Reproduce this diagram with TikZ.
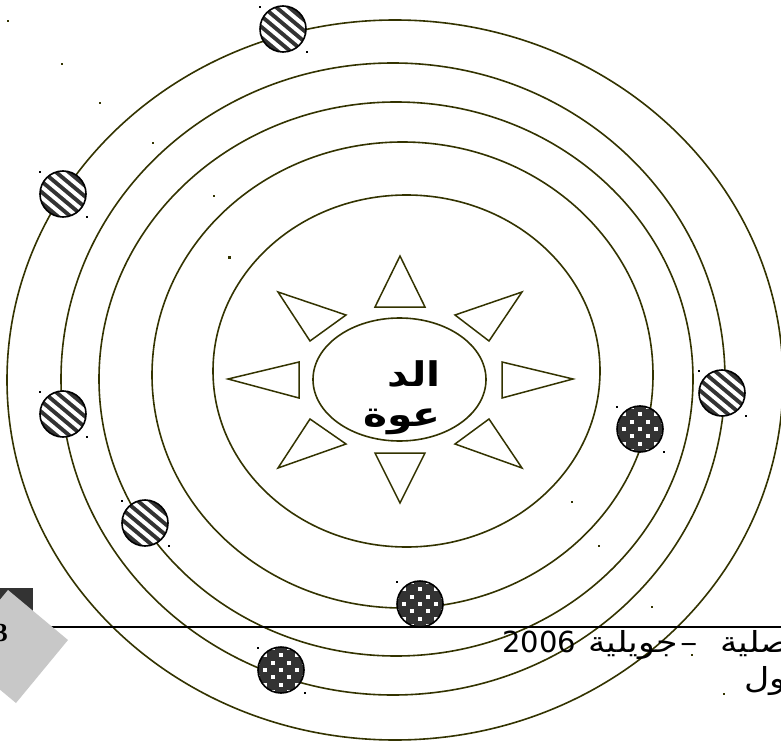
\documentclass[tikz,border=0pt]{standalone}
\usepackage{fontspec}
\usepackage{tikz}
\usetikzlibrary{shapes.geometric, calc}
\TeXXeTstate=1
\newfontfamily\arabicfont[Script=Arabic]{DejaVu Sans}
\newfontfamily\titlefont[Script=Arabic, FakeStretch=1.2]{DejaVu Sans}
\newfontfamily\footerfont[Script=Arabic, FakeStretch=1.2]{DejaVu Sans}
\newfontfamily\pagefont{Liberation Serif}
\definecolor{orbitline}{HTML}{333300}
\definecolor{planetfill}{HTML}{333333}
\definecolor{tabgray}{HTML}{C8C8C8}

\begin{document}
\begin{tikzpicture}[
        x=1pt, y=-1pt,
        orbit/.style={ellipse, draw=orbitline, line width=1.6pt, inner sep=0pt, outer sep=0pt},
        planet/.style={circle, draw=black, line width=1.6pt, fill=planetfill, minimum size=46pt, inner sep=0pt},
        stripes/.style={planet, path picture={
            \foreach \k in {-4,...,4}
                \draw[white, line width=4pt] ($(path picture bounding box.center)+(50:\k*8.2pt)+(-40:32pt)$) -- ($(path picture bounding box.center)+(50:\k*8.2pt)+(140:32pt)$);
        }},
        dots/.style={planet, path picture={
            \foreach \r in {-3,...,3}
                \foreach \c in {-3,...,2} {
                    \pgfmathsetmacro\sh{mod(\r+4,2)*7.8}
                    \fill[white] ($(path picture bounding box.center)+(\c*15.6pt+\sh*1pt-2pt, \r*7.3pt-2pt)$) rectangle +(4pt,4pt);
                }
        }},
        ray/.style={draw=orbitline, line width=1.5pt, line join=miter},
        handle/.style={fill=black}
    ]
        \useasboundingbox (0,0) rectangle (781,743);

        % orbits
        \node[orbit, minimum width=776, minimum height=720] (orbit5) at (395,380) {};
        \node[orbit, minimum width=664, minimum height=632] (orbit4) at (393,379) {};
        \node[orbit, minimum width=594, minimum height=554] (orbit3) at (396,379) {};
        \node[orbit, minimum width=501, minimum height=466] (orbit2) at (402.5,375) {};
        \node[orbit, minimum width=387, minimum height=352] (orbit1) at (406.5,371) {};
        \node[orbit, minimum width=173, minimum height=123] (core) at (399.5,379.5) {};

        % sun rays
        \coordinate (tipN) at (400,256);
        \coordinate (tipS) at (400,503);
        \coordinate (tipW) at (228,379);
        \coordinate (tipE) at (573,379);
        \draw[ray] (375,307) -- (tipN) -- (425,307) -- cycle;
        \draw[ray] (375,453) -- (tipS) -- (425,453) -- cycle;
        \draw[ray] (299,362) -- (tipW) -- (299,398) -- cycle;
        \draw[ray] (502,362) -- (tipE) -- (502,398) -- cycle;
        \draw[ray] (278,292) -- (346,315) -- (310,341) -- cycle;
        \draw[ray] (522,292) -- (455,315) -- (489,341) -- cycle;
        \draw[ray] (278,468) -- (346,444) -- (310,419) -- cycle;
        \draw[ray] (522,468) -- (455,444) -- (489,419) -- cycle;

        \node[font=\titlefont\bfseries\fontsize{34}{40}\selectfont, align=right, anchor=north east, inner sep=0pt] (word) at (441,360) {\beginR الد\endR\\\beginR عوة\endR};

        % planets
        \node[stripes] (s1) at (283,29) {};
        \node[stripes] (s2) at (63,194) {};
        \node[stripes] (s3) at (63,414) {};
        \node[stripes] (s4) at (145,523) {};
        \node[stripes] (s5) at (722,393) {};
        \node[dots] (d1) at (640,429) {};
        \node[dots] (d2) at (420,604) {};
        \node[dots] (d3) at (281,670) {};

        \foreach \p in {s1,s2,s3,s4,s5,d1,d2,d3} {
            \fill[handle] (\p.center) ++(-24,-23) rectangle ++(2.2,2.2);
            \fill[handle] (\p.center) ++(23,22) rectangle ++(2.2,2.2);
        }
        \foreach \o in {orbit1,orbit2,orbit3,orbit4,orbit5} {
            \fill[orbitline] (\o.west |- \o.north) rectangle ++(2.2,2.2);
            \fill[orbitline] (\o.east |- \o.south) rectangle ++(-2.2,-2.2);
        }
        \fill[orbitline] (tipW |- tipN) rectangle ++(3,3);
        \fill[orbitline] (tipE |- tipS) rectangle ++(-2.2,-2.2);

        % footer
        \draw[line width=1.6pt] (40,627) -- (781,627);
        \fill[planetfill] (0,588) rectangle (33,611);
        \fill[tabgray] (8,590) -- (68,640) -- (16,703) -- (-44,653) -- cycle;
        \node[font=\pagefont\bfseries\fontsize{26}{30}\selectfont, anchor=base east, inner sep=0pt] (page) at (8,641) {3};
        \node[font=\footerfont\fontsize{29}{34}\selectfont, anchor=base west, inner sep=0pt] (issue) at (502,652) {\beginR صلية\hspace{22pt}–\hspace{3pt}جويلية\hspace{12pt}\beginL{\arabicfont 2006}\endL\endR};
        \node[font=\footerfont\fontsize{29}{34}\selectfont, anchor=base west, inner sep=0pt] (volume) at (744,688) {\beginR ول\endR};
    \end{tikzpicture}
\end{document}
